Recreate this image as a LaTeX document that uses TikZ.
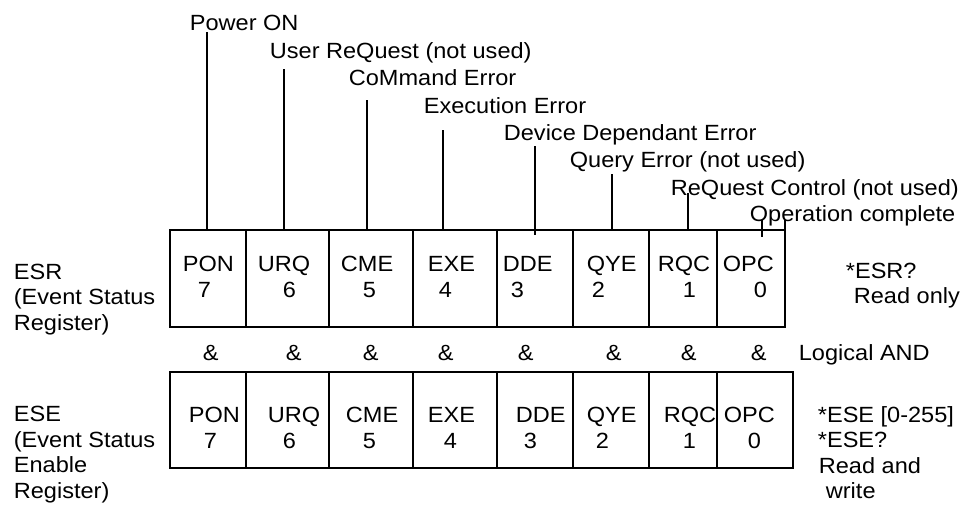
\documentclass[tikz,border=0pt]{standalone}
\usepackage{fontspec}
\setmainfont[FakeStretch=1.07]{Liberation Sans}
\usepackage{tikz}
\usetikzlibrary{positioning}

\tikzset{
  txt/.style={inner sep=0pt, anchor=base west, align=left, font=\fontsize{22}{25.5}\selectfont},
  reg/.style={line width=1.8pt}
}

\begin{document}
\begin{tikzpicture}[x=1pt, y=-1pt, line width=1.8pt]
\useasboundingbox (0,0) rectangle (962,504);

\coordinate (esrNW) at (170,230);
\coordinate (eseNW) at (170,372);

\draw[reg] (785,220) -- (785,327) -- (170,327) -- (esrNW) -- (785,230);
\draw[reg] (246,230) -- (246,327);
\draw[reg] (329,230) -- (329,327);
\draw[reg] (413,230) -- (413,327);
\draw[reg] (497,230) -- (497,327);
\draw[reg] (573,230) -- (573,327);
\draw[reg] (649,230) -- (649,327);
\draw[reg] (717,230) -- (717,327);

\draw[reg] (eseNW) rectangle (793,468);
\draw[reg] (246,372) -- (246,468);
\draw[reg] (329,372) -- (329,468);
\draw[reg] (413,372) -- (413,468);
\draw[reg] (497,372) -- (497,468);
\draw[reg] (573,372) -- (573,468);
\draw[reg] (649,372) -- (649,468);
\draw[reg] (717,372) -- (717,468);

\node[txt] (lpon) at (189,30) {Power ON};
\node[txt] (lurq) at (269,58) {User ReQuest (not used)};
\node[txt] (lcme) at (348,85) {CoMmand Error};
\node[txt] (lexe) at (423,113) {Execution Error};
\node[txt] (ldde) at (503,140) {Device Dependant Error};
\node[txt] (lqye) at (569,167) {Query Error (not used)};
\node[txt] (lrqc) at (670,195) {ReQuest Control (not used)};
\node[txt] (lopc) at (749,221) {Operation complete};

\coordinate (tpon) at (207,32);
\coordinate (turq) at (284,69);
\coordinate (tcme) at (367,100);
\coordinate (texe) at (443,130);
\coordinate (tdde) at (535,146);
\coordinate (tqye) at (612,174);
\coordinate (trqc) at (688,193);
\coordinate (topc) at (762,220);
\draw (tpon) -- (tpon |- esrNW);
\draw (turq) -- (turq |- esrNW);
\draw (tcme) -- (tcme |- esrNW);
\draw (texe) -- (texe |- esrNW);
\draw (tdde) -- ([yshift=-5pt]tdde |- esrNW);
\draw (tqye) -- (tqye |- esrNW);
\draw (trqc) -- (trqc |- esrNW);
\draw (topc) -- ([yshift=-7pt]topc |- esrNW);

\node[txt] (esr) at (13,330) {ESR\\(Event Status\\Register)};
\node[txt] (ese) at (13,498) {ESE\\(Event Status\\Enable\\Register)};

\node[txt] (esrpon) at (182,271) {PON}; \node[txt] (esr7) at (197,297) {7};
\node[txt] (esrurq) at (257,271) {URQ}; \node[txt] (esr6) at (282,297) {6};
\node[txt] (esrcme) at (340,271) {CME}; \node[txt] (esr5) at (362,297) {5};
\node[txt] (esrexe) at (427,271) {EXE}; \node[txt] (esr4) at (438,297) {4};
\node[txt] (esrdde) at (502,271) {DDE}; \node[txt] (esr3) at (510,297) {3};
\node[txt] (esrqye) at (586,271) {QYE}; \node[txt] (esr2) at (591,297) {2};
\node[txt] (esrrqc) at (657,271) {RQC}; \node[txt] (esr1) at (682,297) {1};
\node[txt] (esropc) at (722,271) {OPC}; \node[txt] (esr0) at (753,297) {0};

\node[txt] (and7) at (202,360) {\&};
\node[txt] (and6) at (285,360) {\&};
\node[txt] (and5) at (362,360) {\&};
\node[txt] (and4) at (437,360) {\&};
\node[txt] (and3) at (517,360) {\&};
\node[txt] (and2) at (605,360) {\&};
\node[txt] (and1) at (680,360) {\&};
\node[txt] (and0) at (750,360) {\&};
\node[txt] (logand) at (798,360) {Logical AND};

\node[txt] (esepon) at (188,422) {PON}; \node[txt] (ese7) at (203,448) {7};
\node[txt] (eseurq) at (267,422) {URQ}; \node[txt] (ese6) at (282,448) {6};
\node[txt] (esecme) at (345,422) {CME}; \node[txt] (ese5) at (362,448) {5};
\node[txt] (eseexe) at (427,422) {EXE}; \node[txt] (ese4) at (443,448) {4};
\node[txt] (esedde) at (515,422) {DDE}; \node[txt] (ese3) at (523,448) {3};
\node[txt] (eseqye) at (586,422) {QYE}; \node[txt] (ese2) at (595,448) {2};
\node[txt] (eserqc) at (663,422) {RQC}; \node[txt] (ese1) at (682,448) {1};
\node[txt] (eseopc) at (723,422) {OPC}; \node[txt] (ese0) at (747,448) {0};

\node[txt] (esrq) at (845,278) {*ESR?};
\node[txt] (esrro) at (853,303) {Read only};
\node[txt] (eseset) at (817,422) {*ESE [0-255]};
\node[txt] (eseq) at (817,447) {*ESE?};
\node[txt] (eserw) at (818,473) {Read and};
\node[txt] (esew) at (825,498) {write};
\end{tikzpicture}
\end{document}
